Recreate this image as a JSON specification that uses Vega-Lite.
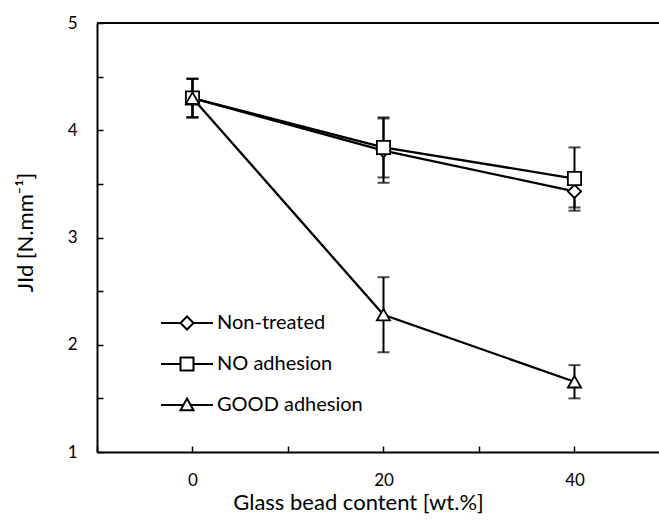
{
  "$schema": "https://vega.github.io/schema/vega-lite/v6.json",
  "width": 562,
  "height": 429,
  "autosize": {"type": "none"},
  "padding": {"left": 97, "top": 23, "right": 0, "bottom": 70},
  "background": "white",
  "config": {
    "view": {"stroke": null},
    "font": "Lato",
    "axis": {
      "grid": false,
      "domainColor": "black",
      "domainWidth": 2,
      "tickColor": "black",
      "tickWidth": 1.5,
      "labelColor": "black",
      "labelFont": "Lato",
      "labelFontSize": 17,
      "titleFont": "Lato",
      "titleFontSize": 22,
      "titleFontWeight": "normal",
      "titleColor": "black"
    }
  },
  "data": {
    "values": [
      {"series": "Non-treated", "x": 0, "y": 4.30, "lo": 4.12, "hi": 4.48},
      {"series": "Non-treated", "x": 20, "y": 3.81, "lo": 3.51, "hi": 4.11},
      {"series": "Non-treated", "x": 40, "y": 3.43, "lo": 3.28, "hi": 3.58},
      {"series": "NO adhesion", "x": 0, "y": 4.30, "lo": 4.12, "hi": 4.48},
      {"series": "NO adhesion", "x": 20, "y": 3.84, "lo": 3.56, "hi": 4.12},
      {"series": "NO adhesion", "x": 40, "y": 3.55, "lo": 3.25, "hi": 3.84},
      {"series": "GOOD adhesion", "x": 0, "y": 4.30, "lo": 4.12, "hi": 4.48},
      {"series": "GOOD adhesion", "x": 20, "y": 2.28, "lo": 1.93, "hi": 2.63},
      {"series": "GOOD adhesion", "x": 40, "y": 1.655, "lo": 1.50, "hi": 1.81}
    ]
  },
  "encoding": {
    "x": {
      "field": "x",
      "type": "quantitative",
      "scale": {"domain": [-10, 48.85], "nice": false, "zero": false},
      "axis": {
        "title": "Glass bead content [wt.%]",
        "values": [-10, 0, 10, 20, 30, 40],
        "format": "d",
        "labelExpr": "datum.value % 20 === 0 ? datum.label : ''",
        "tickSize": -6,
        "labelPadding": 26,
        "titleX": 261,
        "titleY": 57,
        "titleBaseline": "alphabetic",
        "titleAlign": "center"
      }
    },
    "y": {
      "field": "y",
      "type": "quantitative",
      "scale": {"domain": [1, 5], "nice": false, "zero": false},
      "axis": {
        "title": "JId [N.mm⁻¹]",
        "values": [1, 1.5, 2, 2.5, 3, 3.5, 4, 4.5, 5],
        "format": ".0f",
        "labelExpr": "datum.value % 1 === 0 ? datum.label : ''",
        "tickSize": -6,
        "labelPadding": 26,
        "titleX": -72,
        "titleY": 209,
        "titleAngle": -90,
        "titleBaseline": "middle",
        "titleAlign": "center"
      }
    }
  },
  "layer": [
    {
      "mark": {"type": "rule", "color": "black", "strokeWidth": 1.5},
      "encoding": {"x": null, "y": {"datum": 5, "type": "quantitative"}}
    },
    {
      "mark": {"type": "line", "color": "black", "strokeWidth": 2.3},
      "encoding": {"detail": {"field": "series"}}
    },
    {
      "mark": {"type": "point", "filled": true, "fill": "white", "stroke": "black", "strokeWidth": 2, "opacity": 1, "size": 20},
      "encoding": {
        "shape": {
          "field": "series",
          "type": "nominal",
          "scale": {
            "domain": ["Non-treated", "NO adhesion", "GOOD adhesion"],
            "range": [
              "M-1,0H-0.25M0.25,0H1M0,-0.25L0.25,0L0,0.25L-0.25,0Z",
              "M-1,0H-0.25M0.25,0H1M-0.25,-0.25H0.25V0.25H-0.25Z",
              "M-1,0H-0.14M0.14,0H1M0,-0.25L0.25,0.2L-0.25,0.2Z"
            ]
          },
          "legend": {
            "title": null,
            "orient": "none",
            "legendX": 63,
            "legendY": 273,
            "padding": 0,
            "symbolSize": 2704,
            "symbolStrokeWidth": 2,
            "labelFont": "Lato",
            "labelFontSize": 20,
            "labelColor": "black",
            "labelOffset": 3,
            "rowPadding": 3
          }
        }
      }
    },
    {
      "mark": {"type": "rule", "color": "black", "strokeWidth": 2},
      "encoding": {"y": {"field": "lo", "type": "quantitative"}, "y2": {"field": "hi"}}
    },
    {
      "mark": {"type": "tick", "orient": "horizontal", "color": "black", "size": 12, "thickness": 2},
      "encoding": {"y": {"field": "lo", "type": "quantitative"}}
    },
    {
      "mark": {"type": "tick", "orient": "horizontal", "color": "black", "size": 12, "thickness": 2},
      "encoding": {"y": {"field": "hi", "type": "quantitative"}}
    },
    {
      "mark": {"type": "point", "filled": true, "fill": "white", "stroke": "black", "strokeWidth": 1.8, "opacity": 1, "size": 175},
      "encoding": {
        "shape": {
          "field": "series",
          "type": "nominal",
          "scale": {"domain": ["Non-treated", "NO adhesion", "GOOD adhesion"], "range": ["diamond", "square", "triangle-up"]},
          "legend": null
        }
      }
    }
  ],
  "resolve": {"scale": {"shape": "independent"}}
}
